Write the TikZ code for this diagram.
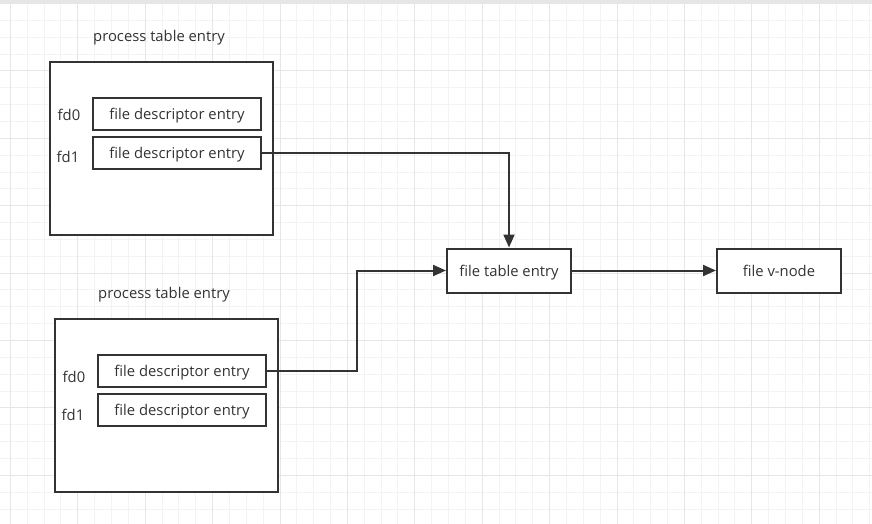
\documentclass[tikz,border=0pt]{standalone}
\usepackage{fontspec}
\setmainfont{Open Sans}
\usetikzlibrary{arrows.meta}
\definecolor{ink}{HTML}{333333}
\definecolor{gridminor}{HTML}{F3F3F3}
\definecolor{gridmajor}{HTML}{E6E6E6}

\begin{document}
\begin{tikzpicture}[x=1pt, y=-1pt,
    box/.style={draw=ink, line width=2pt, fill=white, inner sep=0pt},
    proc/.style={box, minimum width=223pt, minimum height=173pt},
    fdbox/.style={box, minimum width=168pt, minimum height=32pt},
    filebox/.style={box, minimum width=124pt, minimum height=44pt},
    lbl/.style={text=ink, font=\fontsize{14.8}{17}\selectfont, inner sep=0pt,
      text height=12pt, text depth=1pt},
    link/.style={draw=ink, line width=2pt, -{Triangle[length=13pt,width=11pt]}}]
    \fill[white] (0,0) rectangle (872,524);
    \useasboundingbox (0,0) rectangle (872,524);
    % background grid
    \foreach \k in {0,...,51}
      \draw[gridminor, line width=1pt] (10.4+16.85*\k,0) -- (10.4+16.85*\k,524);
    \foreach \k in {0,...,30}
      \draw[gridminor, line width=1pt] (0,3.5+16.85*\k) -- (872,3.5+16.85*\k);
    \foreach \k in {0,4,...,48}
      \draw[gridmajor, line width=1pt] (10.4+16.85*\k,0) -- (10.4+16.85*\k,524);
    \foreach \k in {0,4,...,28}
      \draw[gridmajor, line width=1pt] (0,3.5+16.85*\k) -- (872,3.5+16.85*\k);
    \fill[gridmajor] (0,0) rectangle (872,3);

    % upper process
    \node[lbl] (topTitle) at (159,36) {process table entry};
    \node[proc] (topProc) at (161.5,148.5) {};
    \node[fdbox, lbl] (topFd0) at (177,114) {file descriptor entry};
    \node[fdbox, lbl] (topFd1) at (177,152.5) {file descriptor entry};
    \node[lbl] (topFd0Lbl) at (69,115) {fd0};
    \node[lbl] (topFd1Lbl) at (68,157) {fd1};

    % lower process
    \node[lbl] (botTitle) at (164,293) {process table entry};
    \node[proc] (botProc) at (166.5,405) {};
    \node[fdbox, lbl] (botFd0) at (182,371) {file descriptor entry};
    \node[fdbox, lbl] (botFd1) at (182,409.5) {file descriptor entry};
    \node[lbl] (botFd0Lbl) at (74,377) {fd0};
    \node[lbl] (botFd1Lbl) at (73,415) {fd1};

    % shared entries
    \node[filebox, lbl] (fileTable) at (509,270.5) {file table entry};
    \node[filebox, lbl] (vnode) at (779,270.5) {file v-node};
    \coordinate (bend) at (357,371);

    \draw[link] (topFd1.east) -| (fileTable.north);
    \draw[link] (botFd0.east) -- (bend) |- (fileTable.west);
    \draw[link] (fileTable) -- (vnode);
\end{tikzpicture}
\end{document}
